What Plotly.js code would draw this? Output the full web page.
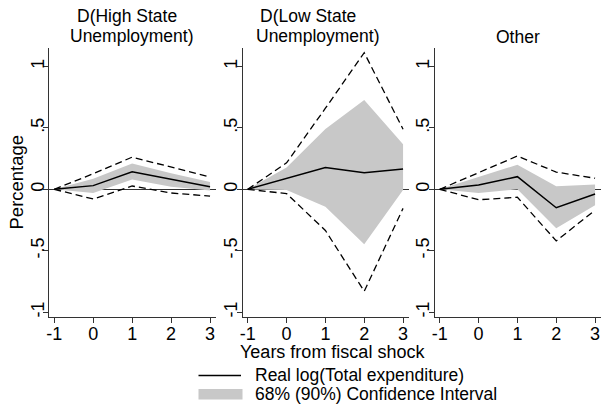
<!DOCTYPE html>
<html>
<head>
<meta charset="utf-8">
<script src="https://cdn.plot.ly/plotly-3.0.1.min.js"></script>
<style>html,body{margin:0;padding:0;background:#fff;}#chart{width:601px;height:407px;}</style>
</head>
<body>
<div id="chart"></div>
<script>
// ---- data ----
const years = [-1, 0, 1, 2, 3];

const panelTitles = [["D(High State", "Unemployment)"], ["D(Low State", "Unemployment)"], ["Other"]];

const highEst  = [0, 0.030, 0.142, 0.080, 0.020];
const highLo68 = [0, -0.030, 0.080, 0.020, -0.010];
const highHi68 = [0, 0.085, 0.210, 0.130, 0.060];
const highLo90 = [0, -0.079, 0.027, -0.030, -0.055];
const highHi90 = [0, 0.127, 0.262, 0.180, 0.100];

const lowEst  = [0, 0.090, 0.178, 0.135, 0.165];
const lowLo68 = [0, -0.005, -0.141, -0.448, -0.005];
const lowHi68 = [0, 0.178, 0.490, 0.727, 0.366];
const lowLo90 = [0, -0.035, -0.335, -0.830, -0.155];
const lowHi90 = [0, 0.215, 0.660, 1.112, 0.489];

const otherEst  = [0, 0.035, 0.103, -0.150, -0.038];
const otherLo68 = [0, -0.030, 0.000, -0.318, -0.130];
const otherHi68 = [0, 0.100, 0.200, 0.025, 0.040];
const otherLo90 = [0, -0.085, -0.065, -0.420, -0.170];
const otherHi90 = [0, 0.135, 0.271, 0.140, 0.090];

const yTickVals = [-1, -0.5, 0, 0.5, 1];
const yTickText = ["-1", "-.5", "0", ".5", "1"];
const xTickVals = [-1, 0, 1, 2, 3];
const xTickText = ["-1", "0", "1", "2", "3"];

const legendLabels = ["Real log(Total expenditure)", "68% (90%) Confidence Interval"];
const xAxisTitle = "Years from fiscal shock";
const yAxisTitle = "Percentage";

// ---- styling ----
const FONT = "Liberation Sans, Arial, Helvetica, sans-serif";
const W = 601, H = 407;
const BAND = "rgb(200,200,200)";
const AXC = "#333333";
const TICKSIZE = 18;

const panels = [
  {est: highEst, lo68: highLo68, hi68: highHi68, lo90: highLo90, hi90: highHi90},
  {est: lowEst, lo68: lowLo68, hi68: lowHi68, lo90: lowLo90, hi90: lowHi90},
  {est: otherEst, lo68: otherLo68, hi68: otherHi68, lo90: otherLo90, hi90: otherHi90}
];

const px = v => v / W;
const py = v => (H - v) / H;

const xDomains = [[px(49), px(215.5)], [px(242.5), px(408.5)], [px(434.5), px(600.5)]];
const yDomain = [py(317.3), py(48.3)];

const traces = [];
panels.forEach((p, i) => {
  const xa = i === 0 ? "x" : "x" + (i + 1);
  const ya = i === 0 ? "y" : "y" + (i + 1);
  traces.push({
    x: years.concat(years.slice().reverse()),
    y: p.hi68.concat(p.lo68.slice().reverse()),
    xaxis: xa, yaxis: ya, type: "scatter", mode: "lines",
    fill: "toself", fillcolor: BAND, line: {width: 0, color: BAND},
    hoverinfo: "skip", showlegend: false
  });
  ["hi90", "lo90"].forEach(k => {
    traces.push({
      x: years, y: p[k], xaxis: xa, yaxis: ya, type: "scatter", mode: "lines",
      line: {color: "#000", width: 1.3, dash: "7px,4px"},
      hoverinfo: "skip", showlegend: false
    });
  });
  traces.push({
    x: years, y: p.est, xaxis: xa, yaxis: ya, type: "scatter", mode: "lines",
    line: {color: "#000", width: 1.5}, hoverinfo: "skip", showlegend: false
  });
});

const layout = {
  width: W, height: H,
  margin: {l: 0, r: 0, t: 0, b: 0},
  paper_bgcolor: "#fff", plot_bgcolor: "#fff",
  font: {family: FONT, size: 17, color: "#000"},
  showlegend: false,
  annotations: [],
  shapes: []
};

for (let i = 0; i < 3; i++) {
  const sx = i === 0 ? "" : String(i + 1);
  layout["xaxis" + sx] = {
    domain: xDomains[i], range: [-1.135, 3.14], anchor: "y" + sx,
    showline: true, linecolor: AXC, linewidth: 1, mirror: false,
    ticks: "outside", ticklen: 5, tickwidth: 1, tickcolor: AXC,
    tickvals: xTickVals, ticktext: xTickText, ticklabelstandoff: -5,
    tickfont: {family: FONT, size: TICKSIZE, color: "#000"},
    showgrid: false, zeroline: false, fixedrange: true
  };
  layout["yaxis" + sx] = {
    domain: yDomain, range: [-1.042, 1.148], anchor: "x" + sx,
    showline: true, linecolor: AXC, linewidth: 1,
    ticks: "outside", ticklen: 5, tickwidth: 1, tickcolor: AXC,
    tickvals: yTickVals, ticktext: yTickText, tickangle: -90, ticklabelstandoff: -8,
    tickfont: {family: FONT, size: TICKSIZE, color: "#000"},
    showgrid: false, zeroline: true, zerolinecolor: AXC, zerolinewidth: 1,
    fixedrange: true
  };
}

// panel titles
const titlePos = [[[127, 16], [131.5, 36]], [[308, 16], [317.5, 36]], [[518, 37]]];
panelTitles.forEach((lines, i) => {
  lines.forEach((t, j) => {
    layout.annotations.push({
      text: t, xref: "paper", yref: "paper",
      x: px(titlePos[i][j][0]), y: py(titlePos[i][j][1]),
      xanchor: "center", yanchor: "middle", showarrow: false,
      font: {family: FONT, size: 17.5, color: "#000"}
    });
  });
});

// axis titles
layout.annotations.push({
  text: xAxisTitle, xref: "paper", yref: "paper", x: px(333), y: py(351.5),
  xanchor: "center", yanchor: "middle", showarrow: false,
  font: {family: FONT, size: 18, color: "#000"}
});
layout.annotations.push({
  text: yAxisTitle, xref: "paper", yref: "paper", x: px(15.5), y: py(182),
  xanchor: "center", yanchor: "middle", showarrow: false, textangle: -90,
  font: {family: FONT, size: 18.5, color: "#000"}
});

// legend key
layout.shapes.push({type: "line", xref: "paper", yref: "paper",
  x0: px(198.5), x1: px(241), y0: py(375.5), y1: py(375.5),
  line: {color: "#000", width: 1.4}});
layout.shapes.push({type: "rect", xref: "paper", yref: "paper",
  x0: px(198.5), x1: px(242.5), y0: py(389), y1: py(399.5),
  fillcolor: BAND, line: {width: 0}});
layout.annotations.push({
  text: legendLabels[0], xref: "paper", yref: "paper", x: px(253), y: py(374.5),
  xanchor: "left", yanchor: "middle", showarrow: false,
  font: {family: FONT, size: 17.5, color: "#000"}
});
layout.annotations.push({
  text: legendLabels[1], xref: "paper", yref: "paper", x: px(253), y: py(393.5),
  xanchor: "left", yanchor: "middle", showarrow: false,
  font: {family: FONT, size: 17.5, color: "#000"}
});

Plotly.newPlot("chart", traces, layout, {staticPlot: true, displayModeBar: false});
</script>
</body>
</html>
